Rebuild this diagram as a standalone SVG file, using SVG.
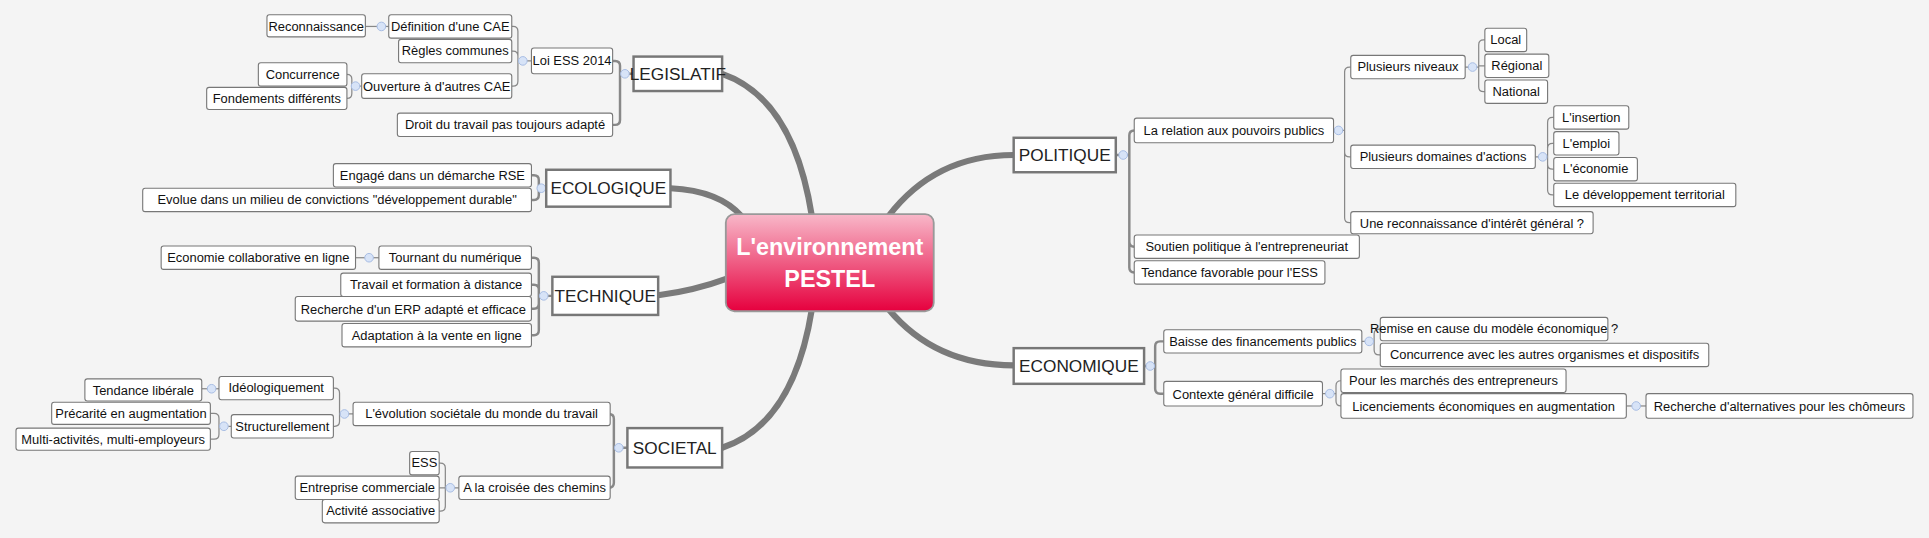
<svg xmlns="http://www.w3.org/2000/svg" width="1929" height="538" viewBox="0 0 1929 538">
<defs>
<linearGradient id="cg" x1="0" y1="0" x2="0" y2="1"><stop offset="0" stop-color="#f8b8c9"/><stop offset="1" stop-color="#e6003e"/></linearGradient>
<style>
.n rect{fill:#fff;stroke:#777;stroke-width:0.9}
.n text{font-family:"Liberation Sans",Arial,sans-serif;font-size:10.5px;fill:#111;text-anchor:middle}
.m rect{fill:#fff;stroke:#777;stroke-width:2}
.m text{font-family:"Liberation Sans",Arial,sans-serif;font-size:14px;fill:#222;text-anchor:middle}
.c path{fill:none;stroke:#888;stroke-width:1}
.c .t{stroke-width:2}
.b path{fill:none;stroke:#7a7a7a;stroke-linecap:round}
.k circle{fill:#d7e3f7;stroke:#a6bce2;stroke-width:0.8}
</style>
</defs>
<rect width="1929" height="538" fill="#f4f4f4"/>
<g transform="scale(1.2302)">
<g class="b" id="branches">
<path d="M660 176 Q645 80 587 60" stroke-width="5"/>
<path d="M722 176 Q760 126 824 126" stroke-width="5"/>
<path d="M545 153 Q585 155 603 176" stroke-width="5"/>
<path d="M535 240 Q565 236 592 226" stroke-width="5"/>
<path d="M660 251 Q645 345 587 364" stroke-width="5"/>
<path d="M722 251 Q760 297 824 297" stroke-width="5"/>
</g>
<g class="c" id="connectors">
<path class="t" d="M515 60 H504 M504 60 V53.5 Q504 49.5 500 49.5 H498 M504 60 V97.5 Q504 101.5 500 101.5 H498"/>
<path d="M432 49.5 H421 M421 49.5 V25.5 Q421 21.5 417 21.5 H416 M421 49.5 V45.5 Q421 41.5 417 41.5 H416 M421 49.5 V66 Q421 70 417 70 H416"/>
<path d="M316 21.5 H297"/>
<path d="M294 70 H286 M286 70 V64.5 Q286 60.5 282 60.5 M286 70 V76 Q286 80 282 80"/>
<path class="t" d="M444 153 H438 M438 153 V146.5 Q438 142.5 434 142.5 H432 M438 153 V158.5 Q438 162.5 434 162.5 H432"/>
<path class="t" d="M449 240.5 H438 M438 240.5 V213.5 Q438 209.5 434 209.5 H432 M438 240.5 V235.5 Q438 231.5 434 231.5 H432 M438 240.5 V247 Q438 251 434 251 H432 M438 240.5 V268.5 Q438 272.5 434 272.5 H432"/>
<path d="M308 209.5 H289"/>
<path class="t" d="M510 364 H499 M499 364 V340.5 Q499 336.5 495 336.5 M499 364 V392.5 Q499 396.5 495 396.5"/>
<path d="M287 336.5 H276 M276 336.5 V319.5 Q276 315.5 272 315.5 H271 M276 336.5 V342.5 Q276 346.5 272 346.5 H271"/>
<path d="M178 316 H164"/>
<path d="M188 346.5 H178 M178 346.5 V340 Q178 336 174 336 H171 M178 346.5 V353 Q178 357 174 357 H171"/>
<path d="M373 396.5 H362 M362 396.5 V380.5 Q362 376.5 358 376.5 H357 M362 396.5 H357 M362 396.5 V411.5 Q362 415.5 358 415.5 H357"/>
<path class="t" d="M907 126 H918 M918 126 V110 Q918 106 922 106 M918 126 V196.5 Q918 200.5 922 200.5 M918 126 V217.5 Q918 221.5 922 221.5"/>
<path d="M1084 106 H1093 M1093 106 V58.5 Q1093 54.5 1097 54.5 H1098 M1093 106 V123.5 Q1093 127.5 1097 127.5 H1098 M1093 106 V177 Q1093 181 1097 181 H1098"/>
<path d="M1191 54.5 H1202 M1202 54.5 V36.5 Q1202 32.5 1206 32.5 H1207 M1202 54.5 V53.5 H1207 M1202 54.5 V70.5 Q1202 74.5 1206 74.5 H1207"/>
<path d="M1248 127.5 H1258 M1258 127.5 V99.5 Q1258 95.5 1262 95.5 H1263 M1258 127.5 V120.5 Q1258 116.5 1262 116.5 H1263 M1258 127.5 V133.5 Q1258 137.5 1262 137.5 H1263 M1258 127.5 V154.5 Q1258 158.5 1262 158.5 H1263"/>
<path class="t" d="M930 297.5 H939 M939 297.5 V281.5 Q939 277.5 943 277.5 H946 M939 297.5 V316 Q939 320 943 320 H946"/>
<path d="M1107 277.5 H1117 M1117 277.5 V271.5 Q1117 267.5 1121 267.5 H1122 M1117 277.5 V284.5 Q1117 288.5 1121 288.5 H1122"/>
<path d="M1075 320 H1086 M1086 320 V313.5 Q1086 309.5 1090 309.5 M1086 320 V326 Q1086 330 1090 330"/>
<path d="M1322 330 H1338"/>
</g>
<g class="k" id="markers">
<circle cx="508" cy="60" r="3.5"/><circle cx="425" cy="49.5" r="3.5"/><circle cx="310" cy="21.5" r="3.5"/><circle cx="289" cy="70" r="3.5"/>
<circle cx="440" cy="153" r="3.5"/><circle cx="442" cy="240.5" r="3.5"/><circle cx="300" cy="209.5" r="3.5"/>
<circle cx="503" cy="364" r="3.5"/><circle cx="280" cy="336.5" r="3.5"/><circle cx="172" cy="316" r="3.5"/><circle cx="182" cy="346.5" r="3.5"/><circle cx="366" cy="396.5" r="3.5"/>
<circle cx="913" cy="126" r="3.5"/><circle cx="1088" cy="106" r="3.5"/><circle cx="1197" cy="54.5" r="3.5"/><circle cx="1254" cy="127.5" r="3.5"/>
<circle cx="935" cy="297.5" r="3.5"/><circle cx="1113" cy="277.5" r="3.5"/><circle cx="1081" cy="320" r="3.5"/><circle cx="1330" cy="330" r="3.5"/>
</g>
<g id="center">
<rect x="590" y="174" width="169" height="79" rx="7" fill="url(#cg)" stroke="#999" stroke-width="1.5"/>
<text x="674.5" y="207" font-family="Liberation Sans,Arial,sans-serif" font-size="19" font-weight="bold" fill="#fff" text-anchor="middle">L'environnement</text>
<text x="674.5" y="233" font-family="Liberation Sans,Arial,sans-serif" font-size="19" font-weight="bold" fill="#fff" text-anchor="middle">PESTEL</text>
</g>
<g class="m" id="legislatif"><rect x="515" y="46" width="72" height="28"/><text x="551" y="65">LEGISLATIF</text></g>
<g class="m" id="ecologique"><rect x="444" y="138" width="101" height="30"/><text x="494.5" y="158">ECOLOGIQUE</text></g>
<g class="m" id="technique"><rect x="449" y="225" width="86" height="31"/><text x="492" y="245.5">TECHNIQUE</text></g>
<g class="m" id="societal"><rect x="510" y="348" width="77" height="32"/><text x="548.5" y="369">SOCIETAL</text></g>
<g class="m" id="politique"><rect x="824" y="112" width="83" height="28"/><text x="865.5" y="131">POLITIQUE</text></g>
<g class="m" id="economique"><rect x="824" y="283" width="106" height="29"/><text x="877" y="302.5">ECONOMIQUE</text></g>
<g class="n" id="n1"><rect x="432" y="39" width="66" height="21" rx="2"/><text x="465" y="53">Loi ESS 2014</text></g>
<g class="n" id="n2"><rect x="323" y="92" width="175" height="19" rx="2"/><text x="410.5" y="105">Droit du travail pas toujours adapté</text></g>
<g class="n" id="n3"><rect x="316" y="12" width="100" height="19" rx="2"/><text x="366" y="25">Définition d'une CAE</text></g>
<g class="n" id="n4"><rect x="324" y="32" width="92" height="19" rx="2"/><text x="370" y="45">Règles communes</text></g>
<g class="n" id="n5"><rect x="294" y="60" width="122" height="20" rx="2"/><text x="355" y="74">Ouverture à d'autres CAE</text></g>
<g class="n" id="n6"><rect x="217" y="12" width="80" height="18" rx="2"/><text x="257" y="25">Reconnaissance</text></g>
<g class="n" id="n7"><rect x="210" y="51" width="72" height="19" rx="2"/><text x="246" y="64">Concurrence</text></g>
<g class="n" id="n8"><rect x="168" y="71" width="114" height="18" rx="2"/><text x="225" y="84">Fondements différents</text></g>
<g class="n" id="n9"><rect x="271" y="133" width="161" height="19" rx="2"/><text x="351.5" y="146">Engagé dans un démarche RSE</text></g>
<g class="n" id="n10"><rect x="116" y="153" width="316" height="19" rx="2"/><text x="274" y="166">Evolue dans un milieu de convictions "développement durable"</text></g>
<g class="n" id="n11"><rect x="308" y="200" width="124" height="19" rx="2"/><text x="370" y="213">Tournant du numérique</text></g>
<g class="n" id="n12"><rect x="277" y="222" width="155" height="19" rx="2"/><text x="354.5" y="235">Travail et formation à distance</text></g>
<g class="n" id="n13"><rect x="240" y="241" width="192" height="20" rx="2"/><text x="336" y="255">Recherche d'un ERP adapté et efficace</text></g>
<g class="n" id="n14"><rect x="278" y="263" width="154" height="19" rx="2"/><text x="355" y="276">Adaptation à la vente en ligne</text></g>
<g class="n" id="n15"><rect x="131" y="200" width="158" height="19" rx="2"/><text x="210" y="213">Economie collaborative en ligne</text></g>
<g class="n" id="n16"><rect x="287" y="327" width="209" height="19" rx="2"/><text x="391.5" y="340">L'évolution sociétale du monde du travail</text></g>
<g class="n" id="n17"><rect x="373" y="387" width="123" height="19" rx="2"/><text x="434.5" y="400">A la croisée des chemins</text></g>
<g class="n" id="n18"><rect x="178" y="306" width="93" height="19" rx="2"/><text x="224.5" y="319">Idéologiquement</text></g>
<g class="n" id="n19"><rect x="188" y="337" width="83" height="19" rx="2"/><text x="229.5" y="350">Structurellement</text></g>
<g class="n" id="n20"><rect x="69" y="308" width="95" height="18" rx="2"/><text x="116.5" y="321">Tendance libérale</text></g>
<g class="n" id="n21"><rect x="42" y="327" width="129" height="18" rx="2"/><text x="106.5" y="340">Précarité en augmentation</text></g>
<g class="n" id="n22"><rect x="13" y="348" width="158" height="18" rx="2"/><text x="92" y="361">Multi-activités, multi-employeurs</text></g>
<g class="n" id="n23"><rect x="333" y="367" width="24" height="19" rx="2"/><text x="345" y="380">ESS</text></g>
<g class="n" id="n24"><rect x="240" y="387" width="117" height="19" rx="2"/><text x="298.5" y="400">Entreprise commerciale</text></g>
<g class="n" id="n25"><rect x="262" y="406" width="95" height="19" rx="2"/><text x="309.5" y="419">Activité associative</text></g>
<g class="n" id="n26"><rect x="922" y="96" width="162" height="20" rx="2"/><text x="1003" y="110">La relation aux pouvoirs publics</text></g>
<g class="n" id="n27"><rect x="922" y="191" width="183" height="19" rx="2"/><text x="1013.5" y="204">Soutien politique à l'entrepreneuriat</text></g>
<g class="n" id="n28"><rect x="922" y="212" width="155" height="19" rx="2"/><text x="999.5" y="225">Tendance favorable pour l'ESS</text></g>
<g class="n" id="n29"><rect x="1098" y="45" width="93" height="19" rx="2"/><text x="1144.5" y="58">Plusieurs niveaux</text></g>
<g class="n" id="n30"><rect x="1098" y="118" width="150" height="19" rx="2"/><text x="1173" y="131">Plusieurs domaines d'actions</text></g>
<g class="n" id="n31"><rect x="1098" y="172" width="197" height="18" rx="2"/><text x="1196.5" y="185">Une reconnaissance d'intérêt général ?</text></g>
<g class="n" id="n32"><rect x="1207" y="23" width="34" height="19" rx="2"/><text x="1224" y="36">Local</text></g>
<g class="n" id="n33"><rect x="1207" y="44" width="52" height="19" rx="2"/><text x="1233" y="57">Régional</text></g>
<g class="n" id="n34"><rect x="1207" y="65" width="51" height="19" rx="2"/><text x="1232.5" y="78">National</text></g>
<g class="n" id="n35"><rect x="1263" y="86" width="61" height="19" rx="2"/><text x="1293.5" y="99">L'insertion</text></g>
<g class="n" id="n36"><rect x="1263" y="107" width="53" height="19" rx="2"/><text x="1289.5" y="120">L'emploi</text></g>
<g class="n" id="n37"><rect x="1263" y="128" width="68" height="19" rx="2"/><text x="1297" y="141">L'économie</text></g>
<g class="n" id="n38"><rect x="1263" y="149" width="148" height="19" rx="2"/><text x="1337" y="162">Le développement territorial</text></g>
<g class="n" id="n39"><rect x="946" y="268" width="161" height="19" rx="2"/><text x="1026.5" y="281">Baisse des financements publics</text></g>
<g class="n" id="n40"><rect x="946" y="310" width="129" height="20" rx="2"/><text x="1010.5" y="324">Contexte général difficile</text></g>
<g class="n" id="n41"><rect x="1122" y="258" width="185" height="19" rx="2"/><text x="1214.5" y="271">Remise en cause du modèle économique ?</text></g>
<g class="n" id="n42"><rect x="1122" y="279" width="267" height="19" rx="2"/><text x="1255.5" y="292">Concurrence avec les autres organismes et dispositifs</text></g>
<g class="n" id="n43"><rect x="1090" y="300" width="183" height="19" rx="2"/><text x="1181.5" y="313">Pour les marchés des entrepreneurs</text></g>
<g class="n" id="n44"><rect x="1090" y="320" width="232" height="20" rx="2"/><text x="1206" y="334">Licenciements économiques en augmentation</text></g>
<g class="n" id="n45"><rect x="1338" y="320" width="217" height="20" rx="2"/><text x="1446.5" y="334">Recherche d'alternatives pour les chômeurs</text></g>
</g>
</svg>
